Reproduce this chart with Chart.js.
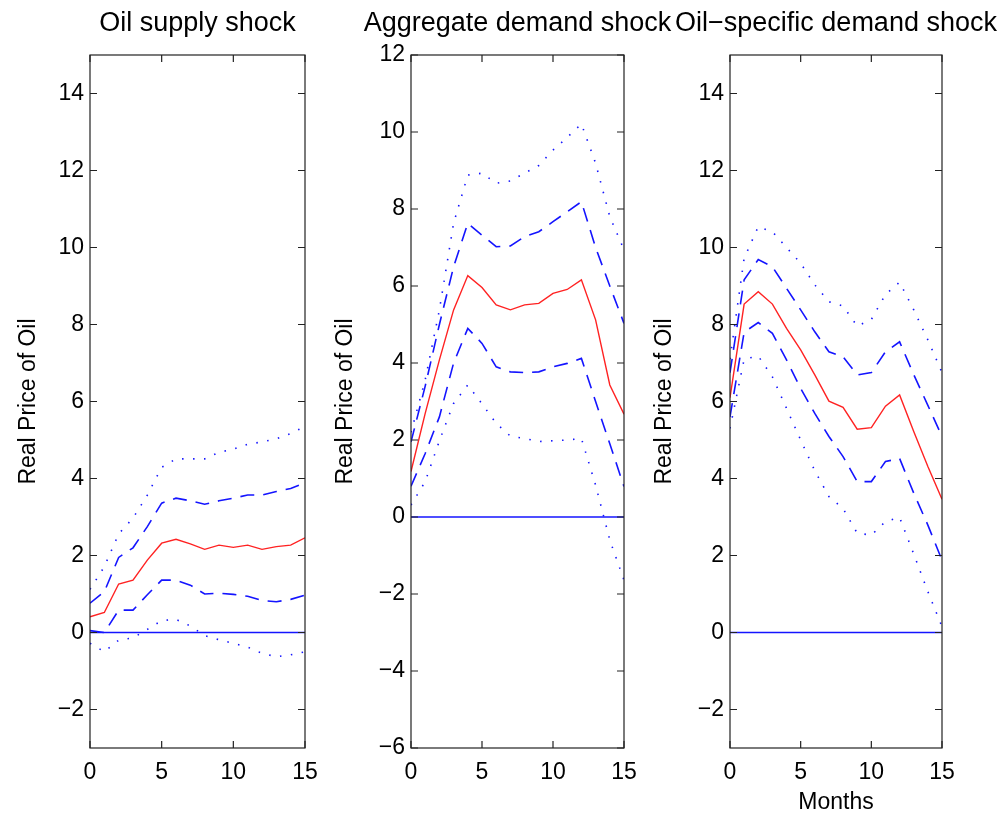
<!DOCTYPE html>
<html>
<head>
<meta charset="utf-8">
<script src="https://cdn.jsdelivr.net/npm/chart.js@4.4.0/dist/chart.umd.min.js"></script>
<style>
  html, body { margin: 0; background: #fff; }
  #wrap { position: relative; width: 1003px; height: 816px; }
  canvas { position: absolute; left: 0; top: 0; }
</style>
</head>
<body>
<div id="wrap">
  <canvas id="supplyChart" width="1003" height="816"></canvas>
  <canvas id="demandChart" width="1003" height="816"></canvas>
  <canvas id="specificChart" width="1003" height="816"></canvas>
</div>
<script>
'use strict';

// months after the shock
const months = [0, 1, 2, 3, 4, 5, 6, 7, 8, 9, 10, 11, 12, 13, 14, 15];
const xTicks = [0, 5, 10, 15];
const yTicksA = [-2, 0, 2, 4, 6, 8, 10, 12, 14];
const yTicksB = [-6, -4, -2, 0, 2, 4, 6, 8, 10, 12];
const zeroLine = [0, 0, 0, 0, 0, 0, 0, 0, 0, 0, 0, 0, 0, 0, 0, 0];

// oil supply shock
const supplyMid = [0.41, 0.52, 1.26, 1.36, 1.88, 2.32, 2.42, 2.30, 2.16, 2.27, 2.21, 2.27, 2.16, 2.23, 2.27, 2.46];
const supplyHi1 = [0.76, 1.06, 1.95, 2.20, 2.75, 3.36, 3.49, 3.42, 3.33, 3.42, 3.49, 3.57, 3.57, 3.66, 3.74, 3.89];
const supplyLo1 = [0.05, 0.00, 0.58, 0.58, 0.98, 1.36, 1.36, 1.23, 1.00, 1.02, 0.99, 0.94, 0.83, 0.80, 0.86, 0.97];
const supplyHi2 = [1.12, 1.71, 2.56, 2.97, 3.57, 4.29, 4.51, 4.51, 4.51, 4.68, 4.76, 4.89, 4.95, 5.03, 5.17, 5.35];
const supplyLo2 = [-0.28, -0.50, -0.20, -0.14, 0.08, 0.31, 0.34, 0.17, -0.08, -0.19, -0.28, -0.38, -0.54, -0.63, -0.58, -0.50];

// aggregate demand shock
const demandMid = [1.18, 2.69, 4.08, 5.38, 6.27, 5.96, 5.51, 5.38, 5.51, 5.55, 5.81, 5.91, 6.16, 5.12, 3.43, 2.67];
const demandHi1 = [1.95, 3.40, 5.00, 6.50, 7.63, 7.32, 7.02, 7.04, 7.28, 7.41, 7.67, 7.93, 8.19, 7.00, 6.00, 5.03];
const demandLo1 = [0.80, 1.65, 2.60, 4.00, 4.90, 4.51, 3.90, 3.77, 3.75, 3.77, 3.90, 3.99, 4.12, 3.00, 1.90, 0.79];
const demandHi2 = [2.20, 3.56, 5.38, 7.63, 8.88, 8.93, 8.67, 8.73, 8.93, 9.13, 9.53, 9.86, 10.21, 9.19, 7.80, 6.94];
const demandLo2 = [0.31, 0.92, 1.98, 2.95, 3.43, 2.94, 2.43, 2.10, 2.04, 1.96, 1.98, 2.00, 2.04, 0.83, -0.60, -1.64];

// oil-specific demand shock
const specificMid = [6.10, 8.53, 8.85, 8.53, 7.90, 7.34, 6.69, 6.01, 5.85, 5.28, 5.32, 5.88, 6.17, 5.22, 4.31, 3.46];
const specificHi1 = [6.75, 9.16, 9.69, 9.50, 8.94, 8.38, 7.81, 7.29, 7.16, 6.69, 6.75, 7.29, 7.55, 6.70, 5.90, 5.09];
const specificLo1 = [5.60, 7.80, 8.05, 7.77, 7.08, 6.34, 5.69, 5.09, 4.57, 3.92, 3.92, 4.44, 4.52, 3.62, 2.79, 1.88];
const specificHi2 = [7.10, 9.72, 10.54, 10.41, 10.00, 9.59, 9.03, 8.59, 8.48, 7.96, 8.13, 8.78, 9.10, 8.38, 7.60, 6.75];
const specificLo2 = [5.30, 7.10, 7.18, 6.64, 5.82, 5.00, 4.20, 3.53, 3.22, 2.58, 2.53, 2.88, 2.99, 2.04, 1.06, 0.15];

const FONT = '"Liberation Sans", Arial, sans-serif';
const BLUE = '#1414ff';
const RED = '#ff2222';

function pts(arr) {
  return months.map((m, i) => ({ x: m, y: arr[i] }));
}

function line(arr, kind) {
  const base = { data: pts(arr), pointRadius: 0, tension: 0, fill: false };
  if (kind === 'mid') return { ...base, borderColor: RED, borderWidth: 1.4 };
  if (kind === 'dash') return { ...base, borderColor: BLUE, borderWidth: 1.6, borderDash: [14, 9] };
  if (kind === 'dot') return { ...base, borderColor: BLUE, borderWidth: 1.6, borderDash: [1.5, 9.5] };
  return { ...base, borderColor: BLUE, borderWidth: 1.3 };
}

// box round the plot, inward ticks on all four sides, title on top
const matlabAxes = {
  id: 'matlabAxes',
  afterDatasetsDraw(chart, args, opts) {
    const { ctx, chartArea: a, scales } = chart;
    ctx.save();
    ctx.strokeStyle = '#222';
    ctx.lineWidth = 1.2;
    ctx.strokeRect(a.left, a.top, a.right - a.left, a.bottom - a.top);
    const tl = 7;
    ctx.beginPath();
    scales.x.ticks.forEach(t => {
      const px = scales.x.getPixelForValue(t.value);
      ctx.moveTo(px, a.bottom); ctx.lineTo(px, a.bottom - tl);
      ctx.moveTo(px, a.top); ctx.lineTo(px, a.top + tl);
    });
    scales.y.ticks.forEach(t => {
      const py = scales.y.getPixelForValue(t.value);
      ctx.moveTo(a.left, py); ctx.lineTo(a.left + tl, py);
      ctx.moveTo(a.right, py); ctx.lineTo(a.right - tl, py);
    });
    ctx.stroke();
    ctx.fillStyle = '#000';
    ctx.font = '27px ' + FONT;
    ctx.textAlign = 'center';
    ctx.textBaseline = 'middle';
    ctx.fillText(opts.text, (a.left + a.right) / 2, 24);
    ctx.restore();
  }
};

function makePanel(id, cfg) {
  const ctx = document.getElementById(id);
  return new Chart(ctx, {
    type: 'line',
    data: {
      datasets: [
        line(zeroLine, 'zero'),
        line(cfg.hi2, 'dot'),
        line(cfg.lo2, 'dot'),
        line(cfg.hi1, 'dash'),
        line(cfg.lo1, 'dash'),
        line(cfg.mid, 'mid'),
      ],
    },
    options: {
      responsive: false,
      animation: false,
      events: [],
      layout: { padding: { left: cfg.left - cfg.yWidth, right: 1003 - cfg.right, top: 55, bottom: 0 } },
      plugins: {
        legend: { display: false },
        tooltip: { enabled: false },
        matlabAxes: { text: cfg.title },
      },
      scales: {
        x: {
          type: 'linear',
          min: 0,
          max: 15,
          afterBuildTicks: s => { s.ticks = xTicks.map(v => ({ value: v })); },
          afterFit: s => { s.height = 68; },
          grid: { display: false, drawTicks: false },
          border: { display: false },
          ticks: { color: '#000', font: { family: FONT, size: 23 }, padding: 11, maxRotation: 0, autoSkip: false },
          title: {
            display: !!cfg.xTitle,
            text: cfg.xTitle || '',
            color: '#000',
            font: { family: FONT, size: 23 },
            padding: { top: 0, bottom: 0 },
          },
        },
        y: {
          min: cfg.yMin,
          max: cfg.yMax,
          afterBuildTicks: s => { s.ticks = cfg.yTicks.map(v => ({ value: v })); },
          afterFit: s => { s.width = cfg.yWidth; },
          grid: { display: false, drawTicks: false },
          border: { display: false },
          ticks: {
            color: '#000',
            font: { family: FONT, size: 23 },
            padding: 6,
            autoSkip: false,
            callback: v => String(v).replace('-', '\u2212'),
          },
          title: {
            display: true,
            text: 'Real Price of Oil',
            color: '#000',
            font: { family: FONT, size: 23 },
            padding: { top: 3, bottom: 0 },
          },
        },
      },
    },
    plugins: [matlabAxes],
  });
}

makePanel('supplyChart', {
  title: 'Oil supply shock', left: 90, right: 305, yWidth: 78,
  yMin: -3, yMax: 15, yTicks: yTicksA,
  mid: supplyMid, hi1: supplyHi1, lo1: supplyLo1, hi2: supplyHi2, lo2: supplyLo2,
});

makePanel('demandChart', {
  title: 'Aggregate demand shock', left: 411, right: 624, yWidth: 82,
  yMin: -6, yMax: 12, yTicks: yTicksB,
  mid: demandMid, hi1: demandHi1, lo1: demandLo1, hi2: demandHi2, lo2: demandLo2,
});

makePanel('specificChart', {
  title: 'Oil\u2212specific demand shock', left: 730, right: 942, yWidth: 82,
  yMin: -3, yMax: 15, yTicks: yTicksA, xTitle: 'Months',
  mid: specificMid, hi1: specificHi1, lo1: specificLo1, hi2: specificHi2, lo2: specificLo2,
});
</script>
</body>
</html>
